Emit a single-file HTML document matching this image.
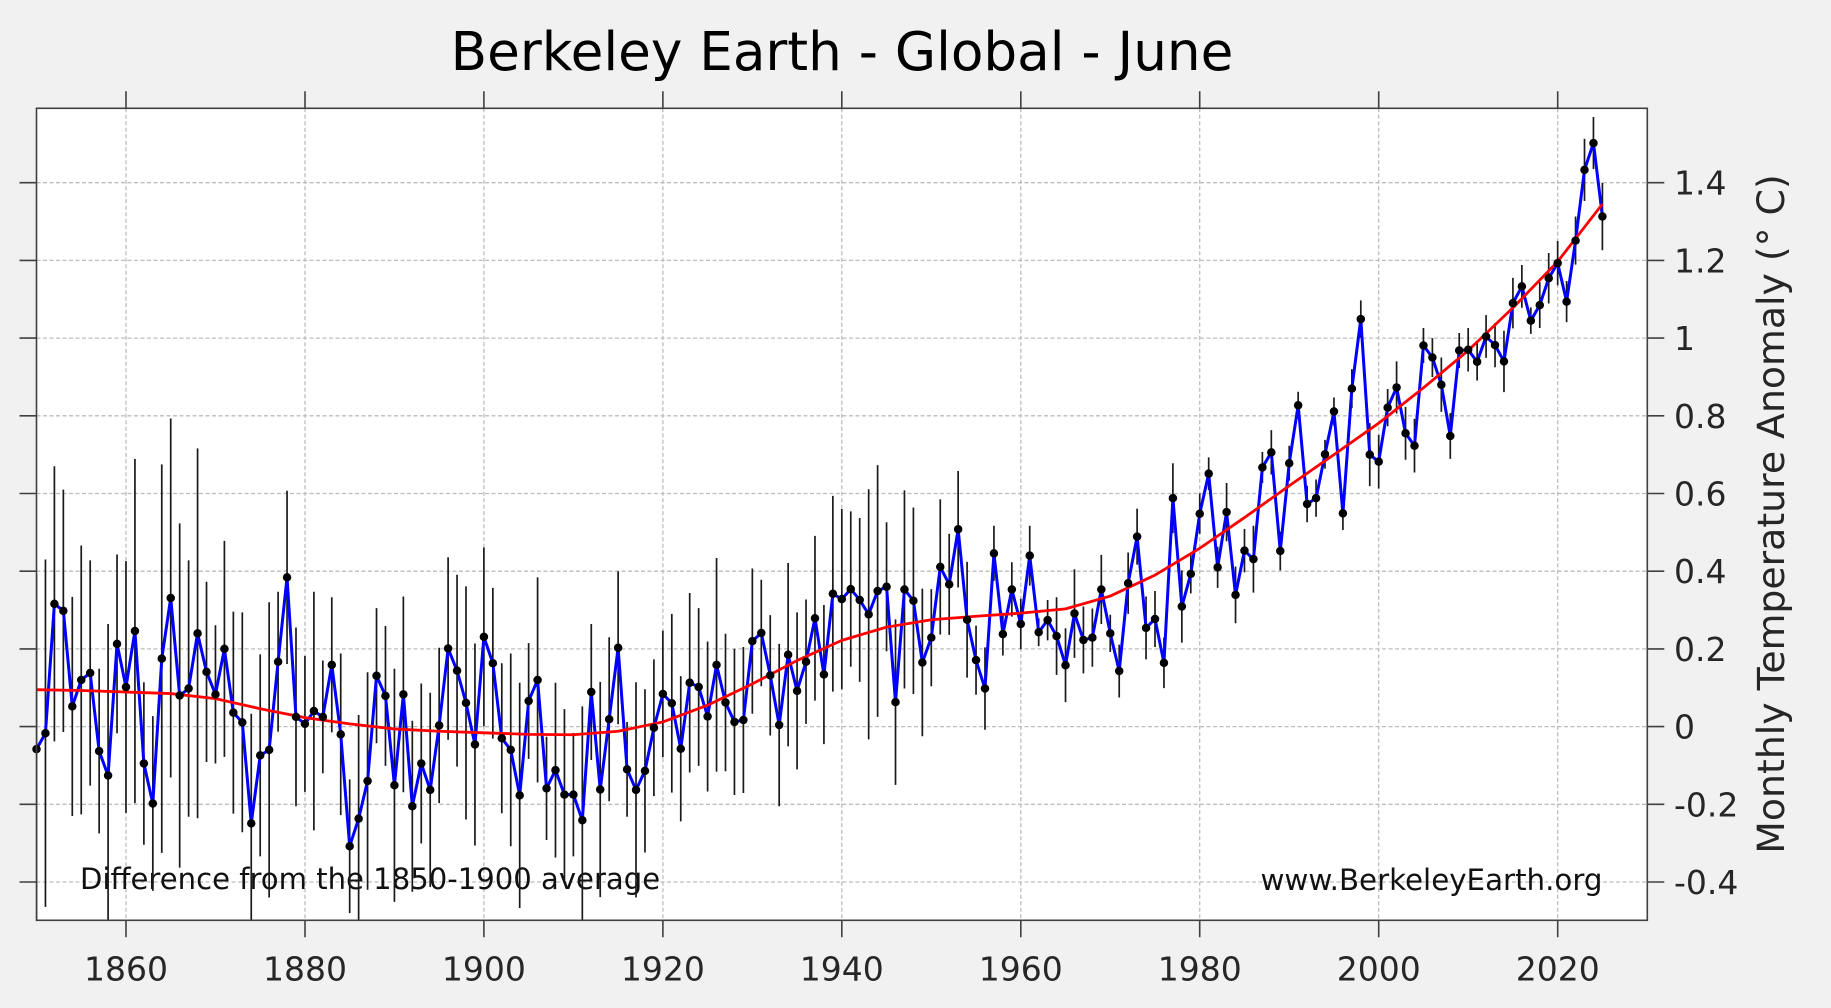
<!DOCTYPE html>
<html><head><meta charset="utf-8"><style>
html,body{margin:0;padding:0;background:#f1f1f1;}
svg{display:block}
</style></head><body>
<svg width="1831" height="1008" viewBox="0 0 1831 1008" font-family="'DejaVu Sans','Liberation Sans',sans-serif">
<defs><clipPath id="pc"><rect x="36.5" y="108.3" width="1610.8" height="812"/></clipPath></defs>
<rect x="0" y="0" width="1831" height="1008" fill="#f1f1f1"/>
<rect x="36.5" y="108.3" width="1610.8" height="812" fill="#ffffff"/>
<g stroke="#bdbdbd" stroke-width="1.3" stroke-dasharray="4,2.5" fill="none">
<path d="M126 108.3V920.3M305 108.3V920.3M483.9 108.3V920.3M662.9 108.3V920.3M841.8 108.3V920.3M1020.8 108.3V920.3M1199.7 108.3V920.3M1378.7 108.3V920.3M1557.7 108.3V920.3"/>
<path d="M36.5 182.7H1647.3M36.5 260.4H1647.3M36.5 338.1H1647.3M36.5 415.8H1647.3M36.5 493.5H1647.3M36.5 571.2H1647.3M36.5 648.9H1647.3M36.5 726.6H1647.3M36.5 804.3H1647.3M36.5 882H1647.3"/>
</g>
<text x="80" y="889" font-size="29.1" fill="#111">Difference from the 1850-1900 average</text>
<text x="1602.5" y="890" font-size="29.3" fill="#111" text-anchor="end">www.BerkeleyEarth.org</text>
<g clip-path="url(#pc)">
<g transform="matrix(8.948 0 0 -388.5 -16517.3 726.6)">
<path vector-effect="non-scaling-stroke" stroke="#1a1a1a" stroke-width="1.7" fill="none" d="M1850 -0.058m0 -0.45v0.9M1851 -0.017m0 -0.447v0.894M1852 0.316m0 -0.354v0.708M1853 0.298m0 -0.312v0.624M1854 0.052m0 -0.282v0.564M1855 0.12m0 -0.346v0.692M1856 0.138m0 -0.29v0.58M1857 -0.063m0 -0.212v0.424M1858 -0.126m0 -0.39v0.78M1859 0.213m0 -0.23v0.46M1860 0.102m0 -0.324v0.648M1861 0.246m0 -0.443v0.886M1862 -0.095m0 -0.209v0.418M1863 -0.198m0 -0.225v0.45M1864 0.175m0 -0.5v1M1865 0.331m0 -0.462v0.924M1866 0.08m0 -0.443v0.886M1867 0.098m0 -0.33v0.66M1868 0.24m0 -0.476v0.952M1869 0.141m0 -0.232v0.464M1870 0.083m0 -0.178v0.356M1871 0.2m0 -0.278v0.556M1872 0.036m0 -0.26v0.52M1873 0.011m0 -0.283v0.566M1874 -0.249m0 -0.282v0.564M1875 -0.074m0 -0.26v0.52M1876 -0.06m0 -0.38v0.76M1877 0.167m0 -0.18v0.36M1878 0.384m0 -0.223v0.446M1879 0.025m0 -0.23v0.46M1880 0.007m0 -0.175v0.35M1881 0.04m0 -0.307v0.614M1882 0.025m0 -0.145v0.29M1883 0.159m0 -0.174v0.348M1884 -0.02m0 -0.208v0.416M1885 -0.308m0 -0.172v0.344M1886 -0.237m0 -0.267v0.534M1887 -0.14m0 -0.28v0.56M1888 0.131m0 -0.174v0.348M1889 0.079m0 -0.18v0.36M1890 -0.151m0 -0.3v0.6M1891 0.083m0 -0.252v0.504M1892 -0.205m0 -0.22v0.44M1893 -0.095m0 -0.206v0.412M1894 -0.163m0 -0.25v0.5M1895 0.003m0 -0.2v0.4M1896 0.201m0 -0.235v0.47M1897 0.144m0 -0.247v0.494M1898 0.061m0 -0.3v0.6M1899 -0.046m0 -0.26v0.52M1900 0.231m0 -0.23v0.46M1901 0.163m0 -0.194v0.388M1902 -0.03m0 -0.193v0.386M1903 -0.06m0 -0.248v0.496M1904 -0.177m0 -0.29v0.58M1905 0.066m0 -0.149v0.298M1906 0.12m0 -0.264v0.528M1907 -0.159m0 -0.133v0.266M1908 -0.112m0 -0.225v0.45M1909 -0.175m0 -0.22v0.44M1910 -0.175m0 -0.159v0.318M1911 -0.241m0 -0.293v0.586M1912 0.089m0 -0.175v0.35M1913 -0.162m0 -0.277v0.554M1914 0.019m0 -0.211v0.422M1915 0.203m0 -0.197v0.394M1916 -0.11m0 -0.122v0.244M1917 -0.163m0 -0.277v0.554M1918 -0.114m0 -0.21v0.42M1919 -0.003m0 -0.176v0.352M1920 0.084m0 -0.163v0.326M1921 0.06m0 -0.23v0.46M1922 -0.057m0 -0.187v0.374M1923 0.113m0 -0.231v0.462M1924 0.102m0 -0.203v0.406M1925 0.026m0 -0.193v0.386M1926 0.159m0 -0.275v0.55M1927 0.062m0 -0.177v0.354M1928 0.012m0 -0.188v0.376M1929 0.017m0 -0.188v0.376M1930 0.22m0 -0.187v0.374M1931 0.241m0 -0.137v0.274M1932 0.132m0 -0.155v0.31M1933 0.004m0 -0.209v0.418M1934 0.185m0 -0.236v0.472M1935 0.092m0 -0.202v0.404M1936 0.167m0 -0.16v0.32M1937 0.279m0 -0.212v0.424M1938 0.134m0 -0.179v0.358M1939 0.342m0 -0.252v0.504M1940 0.328m0 -0.232v0.464M1941 0.354m0 -0.2v0.4M1942 0.326m0 -0.211v0.422M1943 0.289m0 -0.322v0.644M1944 0.349m0 -0.324v0.648M1945 0.36m0 -0.166v0.332M1946 0.063m0 -0.213v0.426M1947 0.353m0 -0.255v0.51M1948 0.324m0 -0.24v0.48M1949 0.165m0 -0.19v0.38M1950 0.229m0 -0.125v0.25M1951 0.411m0 -0.174v0.348M1952 0.366m0 -0.13v0.26M1953 0.508m0 -0.15v0.3M1954 0.275m0 -0.149v0.298M1955 0.171m0 -0.089v0.178M1956 0.098m0 -0.106v0.212M1957 0.446m0 -0.071v0.142M1958 0.238m0 -0.055v0.11M1959 0.353m0 -0.07v0.14M1960 0.264m0 -0.065v0.13M1961 0.44m0 -0.077v0.154M1962 0.243m0 -0.036v0.072M1963 0.274m0 -0.052v0.104M1964 0.233m0 -0.1v0.2M1965 0.158m0 -0.095v0.19M1966 0.291m0 -0.114v0.228M1967 0.223m0 -0.086v0.172M1968 0.229m0 -0.075v0.15M1969 0.353m0 -0.089v0.178M1970 0.24m0 -0.048v0.096M1971 0.143m0 -0.068v0.136M1972 0.369m0 -0.079v0.158M1973 0.489m0 -0.072v0.144M1974 0.254m0 -0.081v0.162M1975 0.277m0 -0.072v0.144M1976 0.164m0 -0.065v0.13M1977 0.588m0 -0.09v0.18M1978 0.309m0 -0.093v0.186M1979 0.393m0 -0.05v0.1M1980 0.548m0 -0.052v0.104M1981 0.651m0 -0.042v0.084M1982 0.41m0 -0.053v0.106M1983 0.552m0 -0.075v0.15M1984 0.339m0 -0.073v0.146M1985 0.453m0 -0.056v0.112M1986 0.431m0 -0.086v0.172M1987 0.667m0 -0.04v0.08M1988 0.706m0 -0.057v0.114M1989 0.452m0 -0.05v0.1M1990 0.678m0 -0.045v0.09M1991 0.827m0 -0.035v0.07M1992 0.573m0 -0.047v0.094M1993 0.588m0 -0.048v0.096M1994 0.701m0 -0.037v0.074M1995 0.811m0 -0.036v0.072M1996 0.549m0 -0.043v0.086M1997 0.87m0 -0.05v0.1M1998 1.049m0 -0.048v0.096M1999 0.7m0 -0.081v0.162M2000 0.682m0 -0.069v0.138M2001 0.821m0 -0.048v0.096M2002 0.873m0 -0.067v0.134M2003 0.755m0 -0.068v0.136M2004 0.723m0 -0.069v0.138M2005 0.981m0 -0.045v0.09M2006 0.95m0 -0.05v0.1M2007 0.88m0 -0.07v0.14M2008 0.748m0 -0.059v0.118M2009 0.968m0 -0.045v0.09M2010 0.97m0 -0.056v0.112M2011 0.939m0 -0.048v0.096M2012 1.004m0 -0.055v0.11M2013 0.982m0 -0.057v0.114M2014 0.94m0 -0.079v0.158M2015 1.09m0 -0.065v0.13M2016 1.133m0 -0.055v0.11M2017 1.045m0 -0.034v0.068M2018 1.085m0 -0.059v0.118M2019 1.154m0 -0.065v0.13M2020 1.193m0 -0.057v0.114M2021 1.094m0 -0.053v0.106M2022 1.251m0 -0.062v0.124M2023 1.433m0 -0.08v0.16M2024 1.502m0 -0.067v0.134M2025 1.313m0 -0.087v0.174"/>
</g>
</g>
<g transform="matrix(8.948 0 0 -388.5 -16517.3 726.6)">
<polyline vector-effect="non-scaling-stroke" fill="none" stroke="#0000ff" stroke-width="3" stroke-linejoin="round" points="1850,-0.058 1851,-0.017 1852,0.316 1853,0.298 1854,0.052 1855,0.12 1856,0.138 1857,-0.063 1858,-0.126 1859,0.213 1860,0.102 1861,0.246 1862,-0.095 1863,-0.198 1864,0.175 1865,0.331 1866,0.08 1867,0.098 1868,0.24 1869,0.141 1870,0.083 1871,0.2 1872,0.036 1873,0.011 1874,-0.249 1875,-0.074 1876,-0.06 1877,0.167 1878,0.384 1879,0.025 1880,0.007 1881,0.04 1882,0.025 1883,0.159 1884,-0.02 1885,-0.308 1886,-0.237 1887,-0.14 1888,0.131 1889,0.079 1890,-0.151 1891,0.083 1892,-0.205 1893,-0.095 1894,-0.163 1895,0.003 1896,0.201 1897,0.144 1898,0.061 1899,-0.046 1900,0.231 1901,0.163 1902,-0.03 1903,-0.06 1904,-0.177 1905,0.066 1906,0.12 1907,-0.159 1908,-0.112 1909,-0.175 1910,-0.175 1911,-0.241 1912,0.089 1913,-0.162 1914,0.019 1915,0.203 1916,-0.11 1917,-0.163 1918,-0.114 1919,-0.003 1920,0.084 1921,0.06 1922,-0.057 1923,0.113 1924,0.102 1925,0.026 1926,0.159 1927,0.062 1928,0.012 1929,0.017 1930,0.22 1931,0.241 1932,0.132 1933,0.004 1934,0.185 1935,0.092 1936,0.167 1937,0.279 1938,0.134 1939,0.342 1940,0.328 1941,0.354 1942,0.326 1943,0.289 1944,0.349 1945,0.36 1946,0.063 1947,0.353 1948,0.324 1949,0.165 1950,0.229 1951,0.411 1952,0.366 1953,0.508 1954,0.275 1955,0.171 1956,0.098 1957,0.446 1958,0.238 1959,0.353 1960,0.264 1961,0.44 1962,0.243 1963,0.274 1964,0.233 1965,0.158 1966,0.291 1967,0.223 1968,0.229 1969,0.353 1970,0.24 1971,0.143 1972,0.369 1973,0.489 1974,0.254 1975,0.277 1976,0.164 1977,0.588 1978,0.309 1979,0.393 1980,0.548 1981,0.651 1982,0.41 1983,0.552 1984,0.339 1985,0.453 1986,0.431 1987,0.667 1988,0.706 1989,0.452 1990,0.678 1991,0.827 1992,0.573 1993,0.588 1994,0.701 1995,0.811 1996,0.549 1997,0.87 1998,1.049 1999,0.7 2000,0.682 2001,0.821 2002,0.873 2003,0.755 2004,0.723 2005,0.981 2006,0.95 2007,0.88 2008,0.748 2009,0.968 2010,0.97 2011,0.939 2012,1.004 2013,0.982 2014,0.94 2015,1.09 2016,1.133 2017,1.045 2018,1.085 2019,1.154 2020,1.193 2021,1.094 2022,1.251 2023,1.433 2024,1.502 2025,1.313"/>
<polyline vector-effect="non-scaling-stroke" fill="none" stroke="#ff0000" stroke-width="2.8" stroke-linejoin="round" points="1850,0.095 1855,0.093 1860,0.089 1865,0.085 1870,0.072 1875,0.046 1880,0.023 1885,0.007 1890,-0.006 1895,-0.012 1900,-0.016 1905,-0.02 1910,-0.021 1915,-0.012 1920,0.012 1925,0.055 1930,0.11 1935,0.17 1940,0.222 1945,0.256 1950,0.275 1955,0.284 1960,0.292 1965,0.303 1970,0.336 1975,0.39 1980,0.459 1985,0.538 1990,0.62 1995,0.7 2000,0.781 2005,0.872 2010,0.968 2015,1.078 2020,1.197 2025,1.345"/>
<path vector-effect="non-scaling-stroke" fill="none" stroke="#000" stroke-width="8.5" stroke-linecap="round" d="M1850 -0.058h0.001M1851 -0.017h0.001M1852 0.316h0.001M1853 0.298h0.001M1854 0.052h0.001M1855 0.12h0.001M1856 0.138h0.001M1857 -0.063h0.001M1858 -0.126h0.001M1859 0.213h0.001M1860 0.102h0.001M1861 0.246h0.001M1862 -0.095h0.001M1863 -0.198h0.001M1864 0.175h0.001M1865 0.331h0.001M1866 0.08h0.001M1867 0.098h0.001M1868 0.24h0.001M1869 0.141h0.001M1870 0.083h0.001M1871 0.2h0.001M1872 0.036h0.001M1873 0.011h0.001M1874 -0.249h0.001M1875 -0.074h0.001M1876 -0.06h0.001M1877 0.167h0.001M1878 0.384h0.001M1879 0.025h0.001M1880 0.007h0.001M1881 0.04h0.001M1882 0.025h0.001M1883 0.159h0.001M1884 -0.02h0.001M1885 -0.308h0.001M1886 -0.237h0.001M1887 -0.14h0.001M1888 0.131h0.001M1889 0.079h0.001M1890 -0.151h0.001M1891 0.083h0.001M1892 -0.205h0.001M1893 -0.095h0.001M1894 -0.163h0.001M1895 0.003h0.001M1896 0.201h0.001M1897 0.144h0.001M1898 0.061h0.001M1899 -0.046h0.001M1900 0.231h0.001M1901 0.163h0.001M1902 -0.03h0.001M1903 -0.06h0.001M1904 -0.177h0.001M1905 0.066h0.001M1906 0.12h0.001M1907 -0.159h0.001M1908 -0.112h0.001M1909 -0.175h0.001M1910 -0.175h0.001M1911 -0.241h0.001M1912 0.089h0.001M1913 -0.162h0.001M1914 0.019h0.001M1915 0.203h0.001M1916 -0.11h0.001M1917 -0.163h0.001M1918 -0.114h0.001M1919 -0.003h0.001M1920 0.084h0.001M1921 0.06h0.001M1922 -0.057h0.001M1923 0.113h0.001M1924 0.102h0.001M1925 0.026h0.001M1926 0.159h0.001M1927 0.062h0.001M1928 0.012h0.001M1929 0.017h0.001M1930 0.22h0.001M1931 0.241h0.001M1932 0.132h0.001M1933 0.004h0.001M1934 0.185h0.001M1935 0.092h0.001M1936 0.167h0.001M1937 0.279h0.001M1938 0.134h0.001M1939 0.342h0.001M1940 0.328h0.001M1941 0.354h0.001M1942 0.326h0.001M1943 0.289h0.001M1944 0.349h0.001M1945 0.36h0.001M1946 0.063h0.001M1947 0.353h0.001M1948 0.324h0.001M1949 0.165h0.001M1950 0.229h0.001M1951 0.411h0.001M1952 0.366h0.001M1953 0.508h0.001M1954 0.275h0.001M1955 0.171h0.001M1956 0.098h0.001M1957 0.446h0.001M1958 0.238h0.001M1959 0.353h0.001M1960 0.264h0.001M1961 0.44h0.001M1962 0.243h0.001M1963 0.274h0.001M1964 0.233h0.001M1965 0.158h0.001M1966 0.291h0.001M1967 0.223h0.001M1968 0.229h0.001M1969 0.353h0.001M1970 0.24h0.001M1971 0.143h0.001M1972 0.369h0.001M1973 0.489h0.001M1974 0.254h0.001M1975 0.277h0.001M1976 0.164h0.001M1977 0.588h0.001M1978 0.309h0.001M1979 0.393h0.001M1980 0.548h0.001M1981 0.651h0.001M1982 0.41h0.001M1983 0.552h0.001M1984 0.339h0.001M1985 0.453h0.001M1986 0.431h0.001M1987 0.667h0.001M1988 0.706h0.001M1989 0.452h0.001M1990 0.678h0.001M1991 0.827h0.001M1992 0.573h0.001M1993 0.588h0.001M1994 0.701h0.001M1995 0.811h0.001M1996 0.549h0.001M1997 0.87h0.001M1998 1.049h0.001M1999 0.7h0.001M2000 0.682h0.001M2001 0.821h0.001M2002 0.873h0.001M2003 0.755h0.001M2004 0.723h0.001M2005 0.981h0.001M2006 0.95h0.001M2007 0.88h0.001M2008 0.748h0.001M2009 0.968h0.001M2010 0.97h0.001M2011 0.939h0.001M2012 1.004h0.001M2013 0.982h0.001M2014 0.94h0.001M2015 1.09h0.001M2016 1.133h0.001M2017 1.045h0.001M2018 1.085h0.001M2019 1.154h0.001M2020 1.193h0.001M2021 1.094h0.001M2022 1.251h0.001M2023 1.433h0.001M2024 1.502h0.001M2025 1.313h0.001"/>
</g>
<rect x="36.5" y="108.3" width="1610.8" height="812" fill="none" stroke="#404040" stroke-width="1.6"/>
<g stroke="#404040" stroke-width="1.6" fill="none">
<path d="M126 920.3v17M305 920.3v17M483.9 920.3v17M662.9 920.3v17M841.8 920.3v17M1020.8 920.3v17M1199.7 920.3v17M1378.7 920.3v17M1557.7 920.3v17"/>
<path d="M126 108.3v-17M305 108.3v-17M483.9 108.3v-17M662.9 108.3v-17M841.8 108.3v-17M1020.8 108.3v-17M1199.7 108.3v-17M1378.7 108.3v-17M1557.7 108.3v-17"/>
<path d="M36.5 182.7h-17M36.5 260.4h-17M36.5 338.1h-17M36.5 415.8h-17M36.5 493.5h-17M36.5 571.2h-17M36.5 648.9h-17M36.5 726.6h-17M36.5 804.3h-17M36.5 882h-17"/>
<path d="M1647.3 182.7h17M1647.3 260.4h17M1647.3 338.1h17M1647.3 415.8h17M1647.3 493.5h17M1647.3 571.2h17M1647.3 648.9h17M1647.3 726.6h17M1647.3 804.3h17M1647.3 882h17"/>
</g>
<g font-size="33" fill="#262626" text-anchor="middle">
<text x="126" y="980.5">1860</text>
<text x="305" y="980.5">1880</text>
<text x="483.9" y="980.5">1900</text>
<text x="662.9" y="980.5">1920</text>
<text x="841.8" y="980.5">1940</text>
<text x="1020.8" y="980.5">1960</text>
<text x="1199.7" y="980.5">1980</text>
<text x="1378.7" y="980.5">2000</text>
<text x="1557.7" y="980.5">2020</text>
</g>
<g font-size="33" fill="#262626">
<text x="1674" y="194.7">1.4</text>
<text x="1674" y="272.4">1.2</text>
<text x="1674" y="350.1">1</text>
<text x="1674" y="427.8">0.8</text>
<text x="1674" y="505.5">0.6</text>
<text x="1674" y="583.2">0.4</text>
<text x="1674" y="660.9">0.2</text>
<text x="1674" y="738.6">0</text>
<text x="1674" y="816.3">-0.2</text>
<text x="1674" y="894">-0.4</text>
</g>
<text transform="translate(1784,514) rotate(-90)" font-size="37.8" fill="#262626" text-anchor="middle">Monthly Temperature Anomaly (° C)</text>
<text x="842" y="70" font-size="53.2" fill="#000" text-anchor="middle">Berkeley Earth - Global - June</text>
</svg>
</body></html>
